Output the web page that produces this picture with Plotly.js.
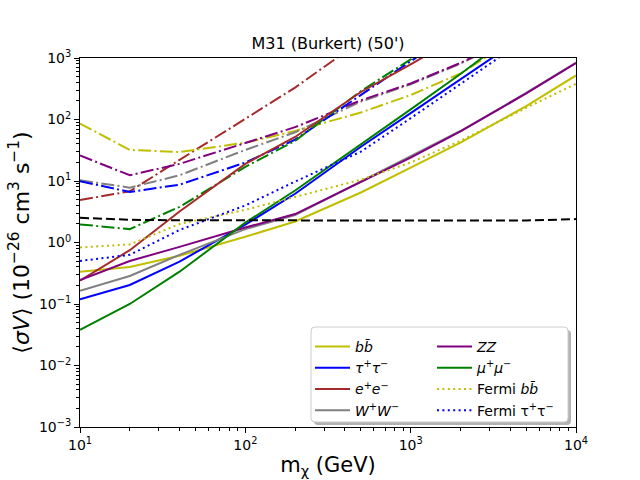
<!DOCTYPE html>
<html><head><meta charset="utf-8">
<script src="https://cdn.plot.ly/plotly-3.0.1.min.js"></script>
<style>body{margin:0;background:#fff}</style>
</head><body><div id="chart" style="width:640px;height:480px"></div>
<script>
// ---- data ----
const masses = [10, 20, 40, 100, 200, 500, 1000, 2000, 5000, 10000];

// solid lines
const bbSolid     = [0.335, 0.40, 0.61, 1.24, 2.2, 6.5, 16.5, 42, 165, 520];
const tautauSolid = [0.119, 0.204, 0.49, 1.95, 6.2, 36, 127, 450, 2390, null];
const eeSolid     = [0.24, 0.75, 3.2, 19, 52, 280, 790, 2300, null, null];
const wwSolid     = [0.164, 0.285, 0.63, 1.65, 2.8, 9.8, 24.5, 65, 270, 845];
const zzSolid     = [0.245, 0.50, 0.85, 1.75, 2.9, 9.5, 24, 64, 265, 826];
const mumuSolid   = [0.038, 0.10, 0.335, 2.1, 7.0, 39, 146, 550, 3440, null];

// dash-dot lines
const bbDashdot     = [86, 32, 29.6, 42, 65, 130, 250, 560, 2700, null];
const tautauDashdot = [9.9, 6.65, 8.7, 20, 47, 250, 900, 3130, null, null];
const eeDashdot     = [4.9, 6.8, 22, 103, 330, 1910, null, null, null, null];
const wwDashdot     = [10.3, 7.8, 12.4, 32, 62, 195, 375, 810, 2700, null];
const zzDashdot     = [26, 12.4, 19, 42, 75, 205, 385, 830, 2730, null];
const mumuDashdot   = [1.97, 1.65, 3.8, 17, 45, 290, 950, 3300, null, null];

// Fermi limits (dotted)
const fermiBB     = [0.83, 0.93, 2.0, 3.4, 5.5, 10.5, 20, 45, 155, 380];
const fermiTauTau = [0.50, 0.63, 1.6, 4.0, 9.8, 30, 105, 370, 2050, null];

// black dashed
const dashedLimit = [2.52, 2.34, 2.3, 2.28, 2.28, 2.28, 2.28, 2.28, 2.28, 2.40];

// tick labels
const xTickVals = [10, 100, 1000, 10000];
const xTickText = ['10<sup>1</sup>', '10<sup>2</sup>', '10<sup>3</sup>', '10<sup>4</sup>'];
const yTickVals = [1e-3, 1e-2, 1e-1, 1, 10, 100, 1000];
const yTickText = ['10<sup>−3</sup>', '10<sup>−2</sup>', '10<sup>−1</sup>', '10<sup>0</sup>',
                   '10<sup>1</sup>', '10<sup>2</sup>', '10<sup>3</sup>'];

// ---- styling ----
const C = {y:'#bfbf00', b:'#0000ff', brown:'#a52a2a', gray:'#808080', purple:'#800080', g:'#008000', k:'#000000'};
const DD = '13px,3.3px,2px,3.3px';
const DOT = '2px,3.4px';

function tr(y, color, dash, name, legend, show){
  return {x: masses, y: y, type:'scatter', mode:'lines', name: name||' ',
    line:{color:color, width:2, dash:dash||'solid'}, showlegend: !!show,
    legend: legend||'legend', hoverinfo:'skip', connectgaps:false};
}

const data = [
  tr(eeDashdot, C.brown, DD),
  tr(bbDashdot, C.y, DD),
  tr(wwDashdot, C.gray, DD),
  tr(zzDashdot, C.purple, DD),
  tr(tautauDashdot, C.b, DD),
  tr(mumuDashdot, C.g, DD),
  tr(bbSolid, C.y, 'solid', '<i>bb̄</i>', 'legend', true),
  tr(tautauSolid, C.b, 'solid', '<i>τ</i><sup>+</sup><i>τ</i><sup>−</sup>', 'legend', true),
  tr(eeSolid, C.brown, 'solid', '<i>e</i><sup>+</sup><i>e</i><sup>−</sup>', 'legend', true),
  tr(wwSolid, C.gray, 'solid', '<i>W</i><sup>+</sup><i>W</i><sup>−</sup>', 'legend', true),
  tr(zzSolid, C.purple, 'solid', '<i>ZZ</i>', 'legend2', true),
  tr(mumuSolid, C.g, 'solid', '<i>μ</i><sup>+</sup><i>μ</i><sup>−</sup>', 'legend2', true),
  tr(fermiBB, C.y, DOT, 'Fermi <i>bb̄</i>', 'legend2', true),
  tr(fermiTauTau, C.b, DOT, 'Fermi τ<sup>+</sup>τ<sup>−</sup>', 'legend2', true),
  tr(dashedLimit, C.k, '9px,4px')
];

// ---- layout geometry ----
const W = 640, H = 480, ML = 80, MR = 64, MT = 58, MB = 53;
const PW = W - ML - MR, PH = H - MT - MB;
function px(x){ return (x - ML) / PW; }
function py(y){ return (H - MB - y) / PH; }
function rr(x0, y0, x1, y1, r){
  const rx = r / PW, ry = r / PH;
  const a = px(x0), b = px(x1), t = py(y0), u = py(y1);
  return `M${a+rx},${t} L${b-rx},${t} Q${b},${t} ${b},${t-ry} L${b},${u+ry} Q${b},${u} ${b-rx},${u} ` +
         `L${a+rx},${u} Q${a},${u} ${a},${u+ry} L${a},${t-ry} Q${a},${t} ${a+rx},${t} Z`;
}
function minorVals(lo, hi){
  const out = [];
  for(let e = lo; e < hi; e++) for(let d = 2; d <= 9; d++) out.push(d * Math.pow(10, e));
  return out;
}

const font = {family:'DejaVu Sans, sans-serif', color:'#000'};
const axisBase = {
  type:'log', showgrid:false, zeroline:false, showline:true, mirror:true,
  linecolor:'#000', linewidth:1, ticks:'outside', ticklen:5, tickwidth:1, tickcolor:'#000',
  tickfont:{family:font.family, size:14, color:'#000'}, tickmode:'array', automargin:false
};

const layout = {
  width:W, height:H, paper_bgcolor:'#fff', plot_bgcolor:'#fff',
  margin:{l:ML, r:MR, t:MT, b:MB, pad:0},
  font: font,
  title:{text:"M31 (Burkert) (50')", font:{family:font.family, size:16, color:'#000'},
    x:(ML + PW/2)/W, xanchor:'center', y:1 - 43/H, yanchor:'middle', yref:'container'},
  xaxis: Object.assign({}, axisBase, {
    range:[1, 4], tickvals:xTickVals, ticktext:xTickText,
    minor:{tickmode:'array', tickvals:minorVals(1,4), ticks:'outside', ticklen:3, tickcolor:'#000', tickwidth:1, showgrid:false},
    title:{text:'m<sub>χ</sub> (GeV)', font:{family:font.family, size:21, color:'#000'}, standoff:5}
  }),
  yaxis: Object.assign({}, axisBase, {
    range:[-3, 3], tickvals:yTickVals, ticktext:yTickText,
    minor:{tickmode:'array', tickvals:minorVals(-3,3), ticks:'outside', ticklen:3, tickcolor:'#000', tickwidth:1, showgrid:false},
    title:{text:'⟨<i>σV</i>⟩ (10<sup>−26</sup> cm<sup>3</sup> s<sup>−1</sup>)', font:{family:font.family, size:22, color:'#000'}, standoff:3}
  }),
  showlegend:true,
  legend:{x:px(310), xanchor:'left', y:py(331), yanchor:'top', bgcolor:'rgba(0,0,0,0)', borderwidth:0,
    font:{family:font.family, size:14, color:'#000'}, tracegroupgap:0, traceorder:'normal', itemwidth:35},
  legend2:{x:px(432), xanchor:'left', y:py(331), yanchor:'top', bgcolor:'rgba(0,0,0,0)', borderwidth:0,
    font:{family:font.family, size:14, color:'#000'}, tracegroupgap:0, traceorder:'normal', itemwidth:35},
  shapes:[
    {type:'path', xref:'paper', yref:'paper', layer:'above', path:rr(314, 330, 571, 425, 4),
      fillcolor:'rgba(0,0,0,0.3)', line:{width:0}},
    {type:'path', xref:'paper', yref:'paper', layer:'above', path:rr(311, 327, 568, 422, 4),
      fillcolor:'#ffffff', line:{color:'#cccccc', width:1}}
  ]
};

Plotly.newPlot('chart', data, layout, {staticPlot:true, displayModeBar:false});
</script>
</body></html>
